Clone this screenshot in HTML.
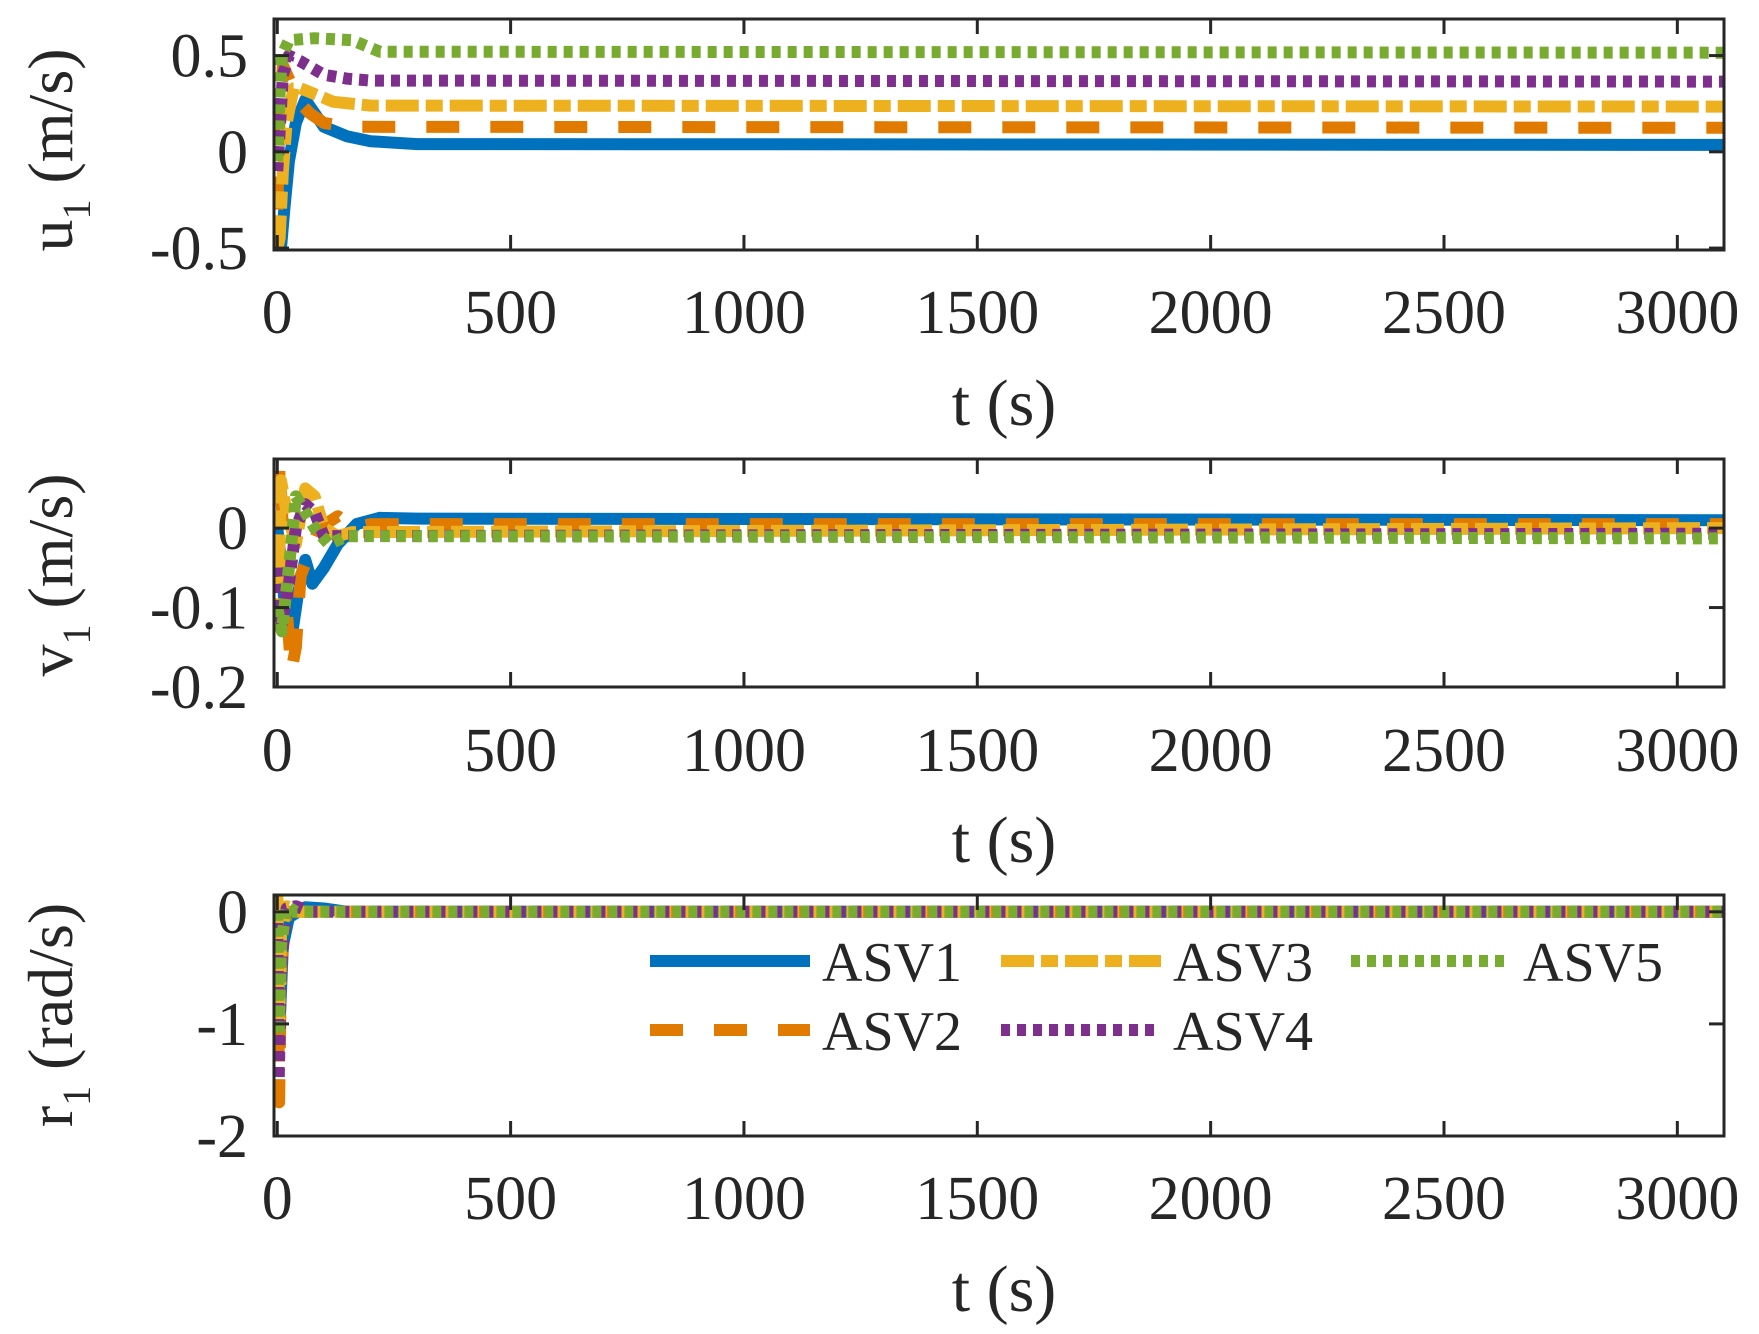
<!DOCTYPE html>
<html><head><meta charset="utf-8"><style>
html,body{margin:0;padding:0;background:#fff;}
svg{display:block;}
text{font-family:"Liberation Serif",serif;fill:#262626;}
</style></head><body>
<svg id="fig" width="1759" height="1334" viewBox="0 0 1759 1334" xmlns="http://www.w3.org/2000/svg"></svg>
<script>
// ---- data ----
const seriesNames = ["ASV1","ASV2","ASV3","ASV4","ASV5"];
const xTicks = [0,500,1000,1500,2000,2500,3000];
const uTicks = [-0.5,0,0.5];
const vTicks = [-0.2,-0.1,0];
const rTicks = [-2,-1,0];

const u1t=[0,8,15,25,40,60,80,100,150,200,300,3100];
const u1v=[-0.5,-0.5,-0.3,-0.05,0.15,0.27,0.2,0.13,0.08,0.055,0.04,0.036];
const u2t=[0,5,12,30,50,70,100,150,3100];
const u2v=[-0.3,0.2,0.45,0.35,0.25,0.2,0.15,0.13,0.125];
const u3t=[0,5,12,20,35,50,80,120,200,3100];
const u3v=[-0.5,-0.45,-0.1,0.15,0.33,0.33,0.3,0.26,0.24,0.235];
const u4t=[0,5,12,25,50,100,150,200,3100];
const u4v=[-0.1,0.1,0.4,0.5,0.47,0.4,0.38,0.37,0.365];
const u5t=[0,5,10,25,80,160,190,220,3100];
const u5v=[-0.05,0.3,0.5,0.58,0.59,0.58,0.55,0.52,0.515];

const v1t=[0,10,20,30,45,60,75,100,130,170,220,300,3100];
const v1v=[0,-0.05,-0.13,-0.14,-0.08,-0.04,-0.07,-0.05,-0.02,0.005,0.013,0.012,0.01];
const v2t=[0,5,12,20,30,40,50,70,90,130,160,200,3100];
const v2v=[-0.05,0.08,0.0,-0.1,-0.18,-0.15,-0.06,-0.03,0.0,0.015,0.0,0.005,0.005];
const v3t=[0,8,20,40,60,80,100,130,160,3100];
const v3v=[-0.13,0.06,0.02,-0.02,0.05,0.04,0.0,-0.01,-0.005,0.0];
const v4t=[0,10,25,40,60,80,100,130,3100];
const v4v=[-0.05,-0.12,-0.07,0.0,0.03,0.02,-0.01,-0.01,-0.007];
const v5t=[0,10,25,40,60,80,110,150,3100];
const v5v=[-0.1,-0.13,-0.05,0.04,0.02,0.0,-0.02,-0.01,-0.013];

const r1t=[0,5,12,25,60,100,150,3100];
const r1v=[0,-1.0,-0.3,-0.05,0.04,0.03,0.0,0.0];
const r2t=[0,4,8,20,3100];
const r2v=[0.1,-1.7,-0.5,0,0];
const r3t=[0,4,8,20,50,3100];
const r3v=[0.15,-1.0,-0.2,0.05,0.0,0.0];
const r4t=[0,3,8,20,40,70,3100];
const r4v=[-0.1,-1.5,-0.5,0.03,0.05,0.0,0.0];
const r5t=[0,3,8,20,40,3100];
const r5v=[0.0,-1.1,-0.3,0.05,0.0,0.0];

// ---- drawing ----
const NS="http://www.w3.org/2000/svg";
const svg=document.getElementById('fig');
function mk(tag,attrs,parent){const e=document.createElementNS(NS,tag);for(const k in attrs)e.setAttribute(k,attrs[k]);(parent||svg).appendChild(e);return e;}
const colors=["#0072BD","#D95319","#EDB120","#7E2F8E","#77AC30"];
colors[1]="#E07B00";
const dashes=["none","33 31","33 7 17 7","9 7","9 7"];
const XL=274,XR=1724,TMIN=-7,TMAX=3100;
function xs(t){return XL+(t-TMIN)/(TMAX-TMIN)*(XR-XL);}

function panel(key,top,bot,ymin,ymax,yticks,ylab,data,tlabBase,xlabBase,labCy){
  const g=mk('g',{});
  
  
  const ys=v=>bot-(v-ymin)/(ymax-ymin)*(bot-top);
  const clipId='clip-'+key;
  const cp=mk('clipPath',{id:clipId},g);
  mk('rect',{x:XL,y:top,width:XR-XL,height:bot-top},cp);
  const lines=mk('g',{'clip-path':'url(#'+clipId+')'},g);
  data.forEach((d,i)=>{
    const pts=d[0].map((t,j)=>xs(t).toFixed(1)+','+ys(d[1][j]).toFixed(1)).join(' ');
    const pl=mk('polyline',{points:pts,fill:'none',stroke:colors[i],'stroke-width':12,'stroke-dasharray':dashes[i],'stroke-linejoin':'round'},lines);
    
    
  });
  // axes box
  const box=mk('rect',{x:XL,y:top,width:XR-XL,height:bot-top,fill:'none',stroke:'#262626','stroke-width':3},g);
  
  
  xTicks.forEach(t=>{
    const x=xs(t);
    mk('line',{x1:x,y1:bot,x2:x,y2:bot-15,stroke:'#262626','stroke-width':3},g);
    mk('line',{x1:x,y1:top,x2:x,y2:top+15,stroke:'#262626','stroke-width':3},g);
    const tx=mk('text',{x:x,y:tlabBase,'font-size':62,'text-anchor':'middle'},g);
    tx.textContent=t;
    
    
  });
  yticks.forEach(v=>{
    const y=ys(v);
    mk('line',{x1:XL,y1:y,x2:XL+15,y2:y,stroke:'#262626','stroke-width':3},g);
    mk('line',{x1:XR,y1:y,x2:XR-15,y2:y,stroke:'#262626','stroke-width':3},g);
    const tx=mk('text',{x:248,y:y+21,'font-size':62,'text-anchor':'end'},g);
    tx.textContent=v;
    
    
  });
  const xl=mk('text',{x:1004,y:xlabBase,'font-size':66,'text-anchor':'middle'},g);
  xl.textContent='t (s)';
  
  
  const yl=mk('text',{x:0,y:0,'font-size':64,'text-anchor':'middle',transform:'translate(72,'+labCy+') rotate(-90)'},g);
  yl.innerHTML=ylab[0]+'<tspan font-size="40" dy="18">1</tspan><tspan dy="-18"> '+ylab[1]+'</tspan>';
  
  
}
panel('u',19,250,-0.51,0.69,uTicks,['u','(m/s)'],[[u1t,u1v],[u2t,u2v],[u3t,u3v],[u4t,u4v],[u5t,u5v]],333,425,150);
panel('v',459,687,-0.2,0.087,vTicks,['v','(m/s)'],[[v1t,v1v],[v2t,v2v],[v3t,v3v],[v4t,v4v],[v5t,v5v]],771,862,575);
panel('r',895,1136,-2,0.15,rTicks,['r','(rad/s)'],[[r1t,r1v],[r2t,r2v],[r3t,r3v],[r4t,r4v],[r5t,r5v]],1219,1311,1015);

// legend
const lg=mk('g',{});


const legX=[650,650,1001,1001,1351];
const legY=[961,1030,961,1030,961];
seriesNames.forEach((n,i)=>{
  const ln=mk('line',{x1:legX[i],y1:legY[i],x2:legX[i]+160,y2:legY[i],stroke:colors[i],'stroke-width':12,'stroke-dasharray':dashes[i]},lg);
  
  
  const tx=mk('text',{x:legX[i]+172,y:legY[i]+20,'font-size':56},lg);
  tx.textContent=n;
  
  
});
</script>
</body></html>
